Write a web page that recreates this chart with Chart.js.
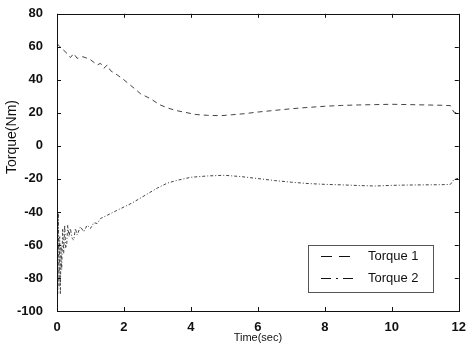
<!DOCTYPE html>
<html>
<head>
<meta charset="utf-8">
<script src="https://cdn.jsdelivr.net/npm/chart.js@4/dist/chart.umd.min.js"></script>
<style>
html,body{margin:0;padding:0;background:#fff;}
#wrap{width:467px;height:351px;}
</style>
</head>
<body>
<div id="wrap"><canvas id="c" width="467" height="351"></canvas></div>
<script>
// ---- data ----
const seriesNames = ["Torque 1", "Torque 2"];
const xTicks = [0, 2, 4, 6, 8, 10, 12];
const yTicks = [-100, -80, -60, -40, -20, 0, 20, 40, 60, 80];
const xTitle = "Time(sec)";
const yTitle = "Torque(Nm)";

const time1 = [0, 0.09, 0.3, 0.4, 0.5, 0.6, 0.77, 0.98, 1.2, 1.3, 1.4, 1.5, 1.6, 1.8, 2.0, 2.3, 2.5, 2.8, 3.06, 3.3, 3.56, 4.15, 4.5, 4.9, 5.2, 5.6, 6.0, 6.5, 7.0, 7.5, 8.0, 8.5, 9.0, 9.5, 10.0, 10.5, 11.0, 11.5, 11.75, 11.85, 12.0];
const torque1 = [62, 60, 56, 53.5, 56, 53, 54, 52.5, 49, 50, 47, 49, 45.5, 43, 40, 35, 31.5, 28.5, 25, 23, 21.4, 19, 18.5, 18.3, 18.8, 19.5, 20.5, 21.5, 22.5, 23.3, 24, 24.5, 24.8, 25, 25.2, 25, 24.8, 24.6, 24.4, 20.5, 19.5];

const time2 = [0, 0.02, 0.04, 0.06, 0.08, 0.1, 0.12, 0.14, 0.17, 0.2, 0.23, 0.26, 0.29, 0.32, 0.36, 0.4, 0.45, 0.5, 0.55, 0.6, 0.7, 0.8, 0.9, 1.0, 1.1, 1.2, 1.3, 1.5, 1.75, 2.0, 2.25, 2.5, 2.75, 3.0, 3.3, 3.6, 4.0, 4.5, 5.0, 5.5, 6.0, 6.5, 7.0, 7.5, 8.0, 8.5, 9.0, 9.5, 10.0, 10.5, 11.0, 11.5, 11.75, 11.85, 12.0];
const torque2 = [-20, -90, -40, -85, -55, -90, -60, -75, -50, -65, -48, -62, -60, -48, -55, -50, -56, -57, -50, -54, -49, -52, -48, -50, -46.5, -47, -44, -42, -39.5, -37, -34.5, -31.5, -28.5, -25.5, -22.5, -20.8, -19, -18.2, -17.8, -18.6, -19.8, -21, -22, -22.8, -23.3, -23.6, -24, -24.3, -23.9, -23.7, -23.6, -23.5, -23.3, -20.5, -19.5];

const toPts = (xs, ys) => xs.map((x, i) => ({x: x, y: ys[i]}));

const FONT = "'Liberation Sans', Arial, Helvetica, sans-serif";

// frame + inward ticks + y title + legend
const decor = {
  id: 'decor',
  afterDatasetsDraw(chart) {
    const ctx = chart.ctx;
    const a = chart.chartArea;
    const xs = chart.scales.x, ys = chart.scales.y;
    ctx.save();
    ctx.strokeStyle = '#111';
    ctx.lineWidth = 1;
    ctx.setLineDash([]);
    ctx.strokeRect(Math.round(a.left) + 0.5, Math.round(a.top) + 0.5, Math.round(a.right - a.left), Math.round(a.bottom - a.top));
    ctx.beginPath();
    const tl = 4;
    yTicks.forEach(v => {
      const y = Math.round(ys.getPixelForValue(v)) + 0.5;
      ctx.moveTo(a.left, y); ctx.lineTo(a.left + tl, y);
      ctx.moveTo(a.right, y); ctx.lineTo(a.right - tl, y);
    });
    xTicks.forEach(v => {
      const x = Math.round(xs.getPixelForValue(v)) + 0.5;
      ctx.moveTo(x, a.bottom); ctx.lineTo(x, a.bottom - tl);
      ctx.moveTo(x, a.top); ctx.lineTo(x, a.top + tl);
    });
    ctx.stroke();

    // y title
    ctx.save();
    ctx.translate(12, 137);
    ctx.rotate(-Math.PI / 2);
    ctx.fillStyle = '#111';
    ctx.font = '14px ' + FONT;
    ctx.textAlign = 'center';
    ctx.textBaseline = 'middle';
    ctx.fillText(yTitle, 0, 0);
    ctx.restore();

    // legend box
    const bx = 308, by = 245, bw = 125, bh = 47;
    ctx.fillStyle = '#fff';
    ctx.fillRect(bx, by, bw, bh);
    ctx.strokeStyle = '#555';
    ctx.strokeRect(bx + 0.5, by + 0.5, bw, bh);
    const rows = [256, 278];
    chart.data.datasets.forEach((ds, i) => {
      const y = rows[i] + 0.5;
      ctx.beginPath();
      ctx.strokeStyle = '#111';
      ctx.lineWidth = 1.2;
      ctx.setLineDash(i === 0 ? [11, 7] : [10, 5, 2, 5]);
      ctx.moveTo(321, y); ctx.lineTo(356, y);
      ctx.stroke();
      ctx.setLineDash([]);
      ctx.fillStyle = '#111';
      ctx.font = '13px ' + FONT;
      ctx.textAlign = 'left';
      ctx.textBaseline = 'middle';
      ctx.fillText(ds.label, 368, rows[i]);
    });
    ctx.restore();
  }
};

new Chart(document.getElementById('c'), {
  type: 'line',
  data: {
    datasets: [
      {label: seriesNames[0], data: toPts(time1, torque1), borderColor: '#444', borderWidth: 1, borderDash: [5, 4], pointRadius: 0, tension: 0, fill: false},
      {label: seriesNames[1], data: toPts(time2, torque2), borderColor: '#444', borderWidth: 1, borderDash: [3, 2, 1, 2], pointRadius: 0, tension: 0, fill: false}
    ]
  },
  options: {
    responsive: false,
    animation: false,
    devicePixelRatio: 1,
    layout: {padding: {left: 0, top: 10, right: 6, bottom: 0}},
    plugins: {legend: {display: false}, tooltip: {enabled: false}},
    scales: {
      x: {
        type: 'linear', min: 0, max: 12,
        grid: {display: false},
        border: {display: false},
        afterBuildTicks: s => { s.ticks = xTicks.map(v => ({value: v})); },
        ticks: {color: '#111', font: {family: FONT, size: 13, weight: 'bold'}, padding: 1, maxRotation: 0},
        title: {display: true, text: xTitle, color: '#111', font: {family: FONT, size: 11}, padding: {top: 0, bottom: 6}},
        afterFit: s => { s.height = 40; }
      },
      y: {
        type: 'linear', min: -100, max: 80,
        grid: {display: false},
        border: {display: false},
        afterBuildTicks: s => { s.ticks = yTicks.map(v => ({value: v})); },
        ticks: {color: '#111', font: {family: FONT, size: 13, weight: 'bold'}, padding: 6},
        afterFit: s => { s.width = 57; }
      }
    }
  },
  plugins: [decor]
});
</script>
</body>
</html>
